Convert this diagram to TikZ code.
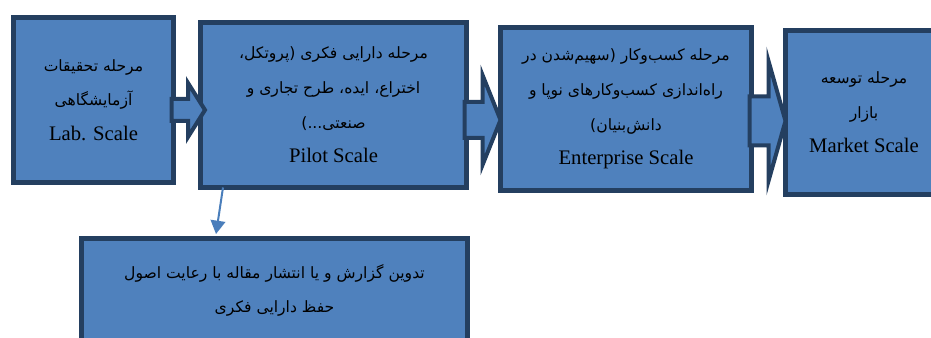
\documentclass[tikz,border=0pt]{standalone}
\usepackage{fontspec}
\setmainfont{Liberation Serif}
\newfontfamily\arabicfont[Script=Arabic]{DejaVu Sans}
\TeXXeTstate=1
\usepackage{tikz}
\usetikzlibrary{calc}
\usetikzlibrary{arrows.meta}
\pgfdeclarelayer{nodelayer}
\pgfdeclarelayer{edgelayer}
\pgfsetlayers{edgelayer,nodelayer,main}
\definecolor{boxblue}{HTML}{4F81BD}
\definecolor{boxedge}{HTML}{243F60}
\definecolor{linkblue}{HTML}{4A7EBB}
\newcommand{\fatext}[1]{{\arabicfont\fontsize{11.7}{26}\selectfont\beginR #1\endR}}
\tikzstyle{stage}=[shape=rectangle, draw=boxedge, fill=boxblue, line width=3.75pt, outer sep=0pt, inner sep=0pt, align=center, text=black, font=\fontsize{15.5}{26}\selectfont]
\tikzset{blockarrow/.style n args={3}{draw=boxedge, fill=boxblue, line width=3pt,
to path={let \p1=(\tikztostart), \p2=(\tikztotarget) in
(\x1,\y2+#1*0.75pt) -- (\x2-#3*0.75pt,\y2+#1*0.75pt) -- (\x2-#3*0.75pt,\y2+#2*0.75pt) -- (\x2,\y2)
-- (\x2-#3*0.75pt,\y2-#2*0.75pt) -- (\x2-#3*0.75pt,\y2-#1*0.75pt) -- (\x1,\y2-#1*0.75pt) -- cycle}}}
\tikzset{link/.style={draw=linkblue, line width=1.5pt, -{Triangle[width=11pt,length=10pt]}}}

\begin{document}
\begin{tikzpicture}[x=0.75pt, y=-0.75pt]
	\useasboundingbox (0,0) rectangle (931,338);
	\clip (0,0) rectangle (931,338);
	\begin{pgfonlayer}{nodelayer}
		\node [style=stage, minimum width=120pt, minimum height=123.75pt] (0) at (93.5, 100) {\fatext{مرحله تحقیقات}\\ \fatext{آزمایشگاهی}\\ Lab. Scale};
		\node [style=stage, minimum width=199.5pt, minimum height=123.75pt] (1) at (333.5, 105) {\fatext{مرحله دارایی فکری (پروتکل،}\\ \fatext{اختراع، ایده، طرح تجاری و}\\ \fatext{صنعتی...)}\\ Pilot Scale};
		\node [style=stage, minimum width=188.25pt, minimum height=122.25pt] (2) at (626, 109) {\fatext{مرحله کسب^^^^200cوکار (سهیم^^^^200cشدن در}\\ \fatext{راه^^^^200cاندازی کسب^^^^200cوکارهای نوپا و}\\ \fatext{دانش^^^^200cبنیان)}\\ Enterprise Scale};
		\node [style=stage, minimum width=117.75pt, minimum height=123pt] (3) at (864, 112.5) {\fatext{مرحله توسعه}\\ \fatext{بازار}\\ Market Scale};
		\node [style=stage, minimum width=289.5pt, minimum height=78pt] (4) at (274.5, 290.5) {\fatext{تدوین گزارش و یا انتشار مقاله با رعایت اصول}\\ \fatext{حفظ دارایی فکری}};
	\end{pgfonlayer}
	\draw [style={blockarrow={11}{27}{17}}] ($(0.east)+(-2,0)$) to ($(1.west)+(4.5,5)$);
	\draw [style={blockarrow={18}{45}{18}}] ($(1.east)+(-2,0)$) to ($(2.west)+(0,11)$);
	\draw [style={blockarrow={24.5}{60}{17}}] ($(2.east)+(-2,0)$) to ($(3.west)+(0,8.5)$);
	\draw [style=link] ($(1.south west)+(22.5,0)$) to ($(4.north west)+(134.5,-4.5)$);
\end{tikzpicture}
\end{document}
